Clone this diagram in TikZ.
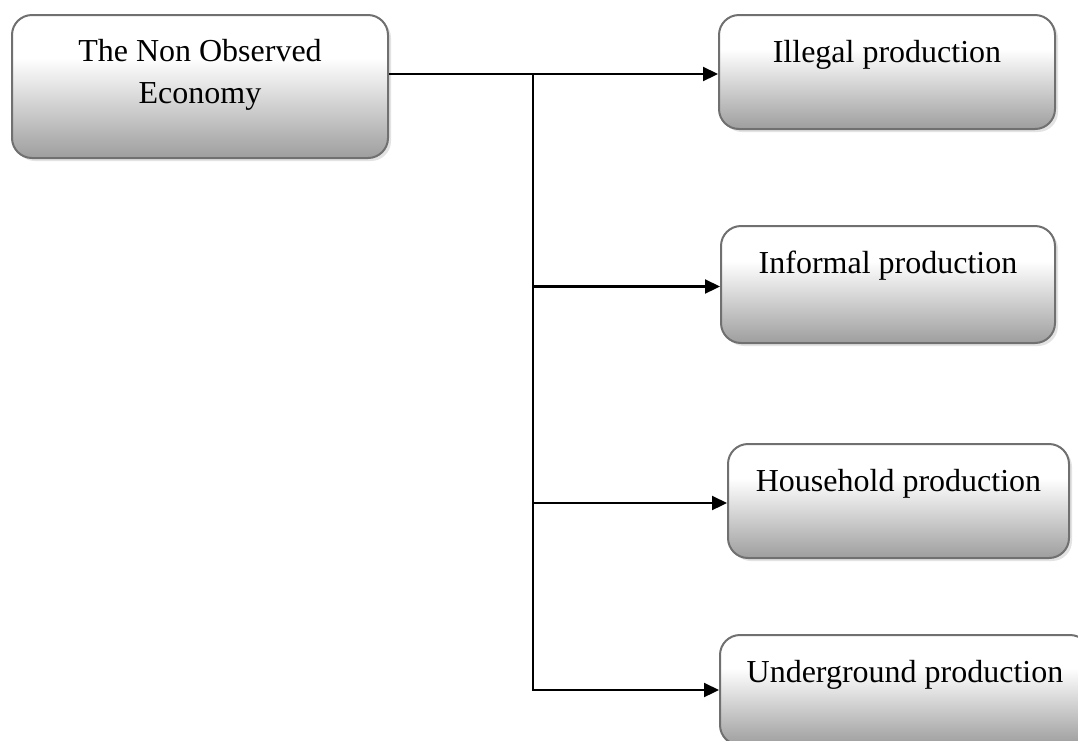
\documentclass[tikz,border=0pt]{standalone}
\usepackage{fontspec}
\setmainfont{Liberation Serif}
\usetikzlibrary{arrows.meta,shadows}

\definecolor{boxedge}{HTML}{707070}
\definecolor{boxbase}{HTML}{9E9E9E}
% white upper part fading to grey at the bottom
\pgfdeclareverticalshading{boxfade}{100bp}{color(0bp)=(boxbase); color(25bp)=(boxbase); color(60bp)=(white); color(100bp)=(white)}

\tikzset{
  box/.style={draw=boxedge, line width=2pt, rounded corners=20pt, shading=boxfade,
    anchor=north west, inner sep=0pt, align=center,
    font=\fontsize{32}{42}\selectfont,
    drop shadow={shadow xshift=3pt, shadow yshift=-3pt, fill=black!22}},
  wire/.style={line width=2.2pt, black, line join=miter},
  feed/.style={wire, -{Triangle[length=15pt,width=14pt]}},
}

\begin{document}
\begin{tikzpicture}[x=1pt, y=-1pt]
  \useasboundingbox (0,0) rectangle (1078,740);
  \clip (0,0) rectangle (1078,740);

  \node[box, minimum width=376pt, text height=88pt, text depth=55pt] (main) at (11,14)
    {The Non Observed\\Economy};
  \node[box, minimum width=336pt, text height=47pt, text depth=67pt] (ill) at (718,14)
    {Illegal production};
  \node[box, minimum width=334pt, text height=47pt, text depth=70pt] (inf) at (720,225)
    {Informal production};
  \node[box, minimum width=341pt, text height=47pt, text depth=67pt] (hh) at (727,443)
    {Household production};
  \node[box, minimum width=370pt, text height=47pt, text depth=63pt] (und) at (719,634)
    {Underground production};

  % trunk position
  \coordinate (trunk) at (533,0);

  \draw[feed] ([yshift=-2pt]main.east |- ill.west) -- ([yshift=-2pt]ill.west);
  \draw[feed] ([yshift=-2pt]trunk |- ill.west) -- (trunk |- und.west) -- (und.west);
  \draw[feed] ([yshift=-2pt]trunk |- inf.west) -- ([yshift=-2pt]inf.west);
  \draw[feed] ([yshift=-2pt]trunk |- hh.west) -- ([yshift=-2pt]hh.west);
\end{tikzpicture}
\end{document}
